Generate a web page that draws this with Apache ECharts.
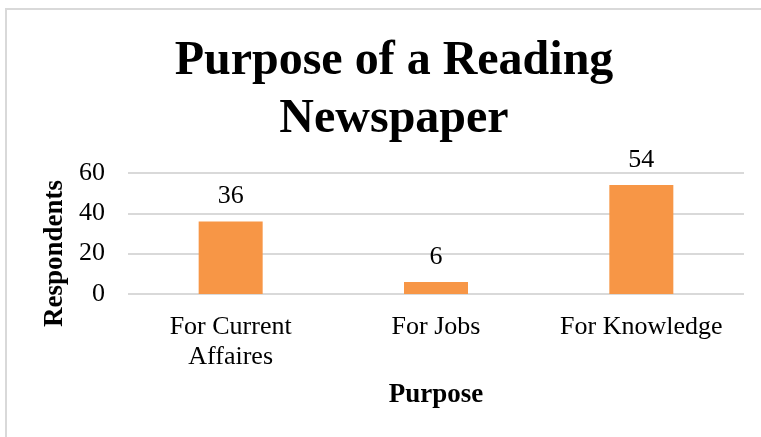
<!DOCTYPE html>
<html>
<head>
<meta charset="utf-8">
<script src="https://cdn.jsdelivr.net/npm/echarts@6/dist/echarts.min.js"></script>
<style>
html, body { margin: 0; padding: 0; background: #fff; }
#chart { width: 761px; height: 437px; }
</style>
</head>
<body>
<div id="chart"></div>
<script>
var categories = ['For Current\nAffaires', 'For Jobs', 'For Knowledge'];
var respondents = [36, 6, 54];
var yTicks = { min: 0, max: 60, interval: 20 };

var serif = '"Liberation Serif", "Times New Roman", serif';
var myChart = echarts.init(document.getElementById('chart'));

var option = {
	backgroundColor: '#fff',
	animation: false,
	title: {
		text: 'Purpose of a Reading\nNewspaper',
		left: 389,
		top: 28,
		textAlign: 'center',
		textStyle: {
			fontFamily: serif,
			fontWeight: 'bold',
			fontSize: 48,
			lineHeight: 58,
			color: '#000'
		}
	},
	graphic: [{
		type: 'rect',
		shape: { x: 6, y: 9, width: 800, height: 500 },
		style: { fill: 'none', stroke: '#d9d9d9', lineWidth: 2 },
		silent: true
	}],
	grid: { left: 128, right: 17, top: 173, bottom: 143 },
	xAxis: {
		type: 'category',
		data: categories,
		name: 'Purpose',
		nameLocation: 'middle',
		nameGap: 88,
		nameTextStyle: { fontFamily: serif, fontWeight: 'bold', fontSize: 27, color: '#000' },
		axisLine: { show: false },
		axisTick: { show: false },
		axisLabel: { fontFamily: serif, fontSize: 26, lineHeight: 30, color: '#000', margin: 18, interval: 0 }
	},
	yAxis: {
		type: 'value',
		min: yTicks.min,
		max: yTicks.max,
		interval: yTicks.interval,
		name: 'Respondents',
		nameLocation: 'middle',
		nameGap: 56,
		// label sits lower than the plot centre in the original
		nameTextStyle: { fontFamily: serif, fontWeight: 'bold', fontSize: 27, color: '#000', padding: [0, 40, 0, 0] },
		axisLine: { show: false },
		axisTick: { show: false },
		axisLabel: { fontFamily: serif, fontSize: 26, color: '#000', margin: 23 },
		splitLine: { lineStyle: { color: '#d9d9d9', width: 2 } }
	},
	series: [{
		name: 'Respondents',
		type: 'bar',
		data: respondents,
		barWidth: 64,
		itemStyle: { color: '#F79646' },
		label: {
			show: true,
			position: 'top',
			distance: 12,
			fontFamily: serif,
			fontSize: 26,
			color: '#000'
		}
	}]
};
myChart.setOption(option);
</script>
</body>
</html>
